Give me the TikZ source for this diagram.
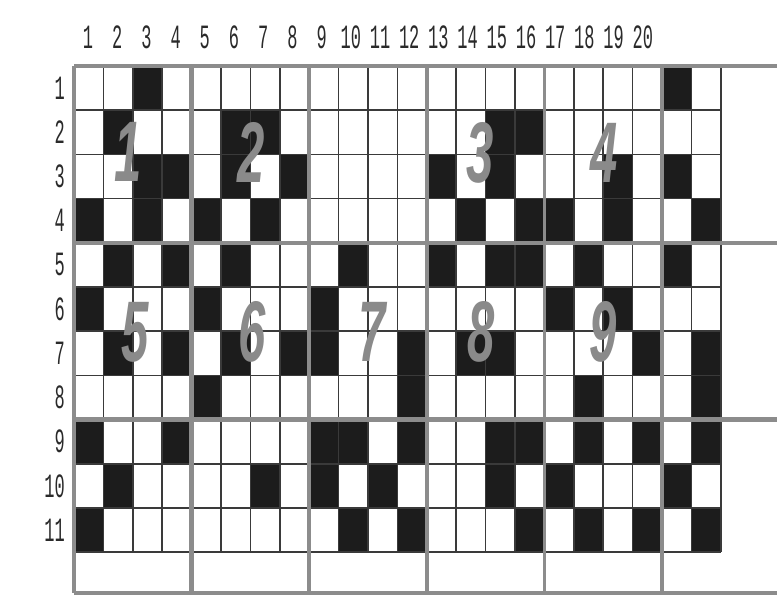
\documentclass[tikz,border=0pt]{standalone}
\usepackage{fontspec}
\newfontfamily\labfont{Liberation Mono}
\newfontfamily\bigfont{Liberation Sans}
\definecolor{cellblack}{HTML}{1C1C1C}
\definecolor{thinline}{HTML}{3A3A3A}
\definecolor{thickline}{HTML}{8C8C8C}
\definecolor{digitgray}{HTML}{8A8A8A}
\definecolor{labelgray}{HTML}{2A2A2A}
\tikzset{
  blackcell/.style={fill=cellblack},
  thingrid/.style={draw=thinline, line width=1.5pt},
  thickgrid/.style={draw=thickline, line width=4.5pt},
  midgrid/.style={draw=thickline, line width=3pt},
  collabel/.style={font=\labfont\fontsize{34}{34}\selectfont, text=labelgray, xscale=0.5, inner sep=0pt},
  rowlabel/.style={font=\labfont\fontsize{34}{34}\selectfont, text=labelgray, xscale=0.5, inner sep=0pt, anchor=east},
  bigdigit/.style={font=\bigfont\bfseries\itshape\fontsize{86}{86}\selectfont, text=digitgray, xscale=0.57, inner sep=0pt}
}
\begin{document}
\begin{tikzpicture}[x=1pt,y=-1pt]
\useasboundingbox (0,0) rectangle (777,599);
\fill[white] (0,0) rectangle (777,599);
\def\cw{29.4}\def\rh{44.2}\def\xo{74}\def\yo{66}
% black cells
\foreach \r/\cols in {1/{3,21},2/{2,6,7,15,16},3/{3,4,6,8,13,15,19,21},4/{1,3,5,7,14,16,17,19,22},5/{2,4,6,10,13,15,16,18,21},6/{1,5,9,17,19},7/{2,4,6,8,9,12,14,15,20,22},8/{5,12,18,22},9/{1,4,9,10,12,15,16,18,20,22},10/{2,7,9,11,15,17,21},11/{1,10,12,16,18,20,22}}{
  \foreach \c in \cols {
    \fill[blackcell] ({\xo+(\c-1)*\cw},{\yo+(\r-1)*\rh}) rectangle ++(\cw,\rh);
  }
}
% thin grid
\foreach \c in {1,...,22} {
  \draw[thingrid] ({\xo+\c*\cw},{\yo}) -- ({\xo+\c*\cw},{\yo+11*\rh});
}
\foreach \r in {1,...,11} {
  \draw[thingrid] ({\xo},{\yo+\r*\rh}) -- ({\xo+22*\cw},{\yo+\r*\rh});
}
% thick grid
\foreach \c in {0,4,8,12,20} {
  \draw[thickgrid] ({\xo+\c*\cw},{\yo}) -- ({\xo+\c*\cw},593);
}
\draw[midgrid] ({\xo+16*\cw},{\yo}) -- ({\xo+16*\cw},593);
\foreach \yy in {66,242.8,419.6,593} {
  \draw[thickgrid] ({\xo},\yy) -- (777,\yy);
}
% column labels
\foreach \k in {1,...,20} {
  \node[collabel] (col\k) at ({88+(\k-1)*29.2},37) {\k};
}
% row labels
\foreach \r in {1,...,11} {
  \node[rowlabel] (row\r) at (65,{\yo+(\r-0.5)*\rh}) {\r};
}
% big digits
\node[bigdigit] (d1) at (128,152) {1};
\node[bigdigit] (d2) at (251,152) {2};
\node[bigdigit] (d3) at (480,153) {3};
\node[bigdigit] (d4) at (604,153) {4};
\node[bigdigit] (d5) at (135,332) {5};
\node[bigdigit] (d6) at (252,332) {6};
\node[bigdigit] (d7) at (372,332) {7};
\node[bigdigit] (d8) at (481,332) {8};
\node[bigdigit] (d9) at (603,332) {9};
\end{tikzpicture}
\end{document}
